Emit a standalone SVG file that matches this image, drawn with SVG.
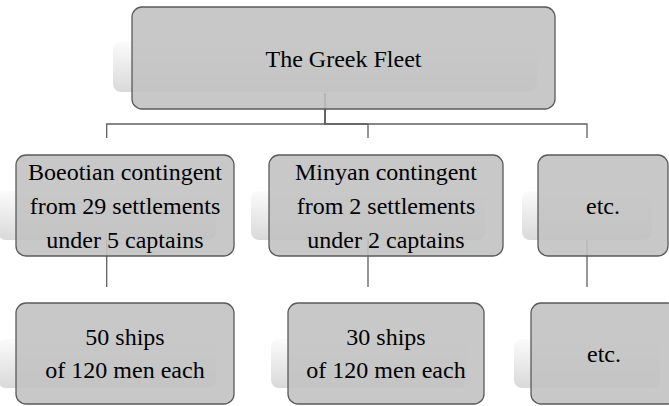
<svg xmlns="http://www.w3.org/2000/svg" width="669" height="406" viewBox="0 0 669 406">
  <defs>
    <linearGradient id="shade" x1="0" y1="0" x2="0" y2="1">
      <stop offset="0" stop-color="#fbfbfb"/>
      <stop offset="1" stop-color="#d9d9d9"/>
    </linearGradient>
  </defs>
  <style>
    .shadow { fill: url(#shade); }
    .box { fill: rgb(193,193,193); fill-opacity: 0.89; stroke: #5a5a5a; stroke-width: 1.3; }
    .conn { fill: none; stroke: #5f5f5f; stroke-width: 1.3; }
    .t { font-family: 'Liberation Serif', serif; font-size: 24px; fill: #000; text-anchor: middle; }
  </style>
  <rect width="669" height="406" fill="#ffffff"/>
  <g id="connectors">
    <path class="conn" d="M325,93 V124 H106.7 V138"/>
    <path class="conn" d="M325,93 V124 H368 V138"/>
    <path class="conn" d="M325,93 V124 H587 V138"/>
    <path class="conn" d="M106.7,240 V287"/>
    <path class="conn" d="M368,240 V287"/>
    <path class="conn" d="M587,240 V287"/>
  </g>
  <g id="fleet">
    <rect class="shadow" x="113" y="42" width="424" height="50" rx="8"/>
    <rect class="box" x="132" y="7" width="423" height="102" rx="10"/>
    <text class="t" x="343.5" y="67">The Greek Fleet</text>
  </g>
  <g id="boeotian">
    <rect class="shadow" x="-2" y="191" width="218" height="49" rx="8"/>
    <rect class="box" x="16" y="155" width="218" height="101" rx="10"/>
    <text class="t" x="125" y="180">Boeotian contingent</text>
    <text class="t" x="125" y="214">from 29 settlements</text>
    <text class="t" x="125" y="248">under 5 captains</text>
  </g>
  <g id="minyan">
    <rect class="shadow" x="251" y="191" width="234" height="49" rx="8"/>
    <rect class="box" x="269" y="155" width="234" height="101" rx="10"/>
    <text class="t" x="386" y="180">Minyan contingent</text>
    <text class="t" x="386" y="214">from 2 settlements</text>
    <text class="t" x="386" y="248">under 2 captains</text>
  </g>
  <g id="etc-top">
    <rect class="shadow" x="522" y="191" width="130" height="49" rx="8"/>
    <rect class="box" x="538" y="155" width="130" height="101" rx="10"/>
    <text class="t" x="603" y="214">etc.</text>
  </g>
  <g id="ships50">
    <rect class="shadow" x="-2" y="339" width="218" height="49" rx="8"/>
    <rect class="box" x="16" y="303" width="218" height="101" rx="10"/>
    <text class="t" x="125" y="345">50 ships</text>
    <text class="t" x="125" y="378">of 120 men each</text>
  </g>
  <g id="ships30">
    <rect class="shadow" x="271" y="339" width="196" height="49" rx="8"/>
    <rect class="box" x="288" y="303" width="196" height="101" rx="10"/>
    <text class="t" x="386" y="345">30 ships</text>
    <text class="t" x="386" y="378">of 120 men each</text>
  </g>
  <g id="etc-bottom">
    <rect class="shadow" x="514" y="339" width="146" height="49" rx="8"/>
    <rect class="box" x="531" y="303" width="146" height="101" rx="10"/>
    <text class="t" x="604" y="362">etc.</text>
  </g>
</svg>
